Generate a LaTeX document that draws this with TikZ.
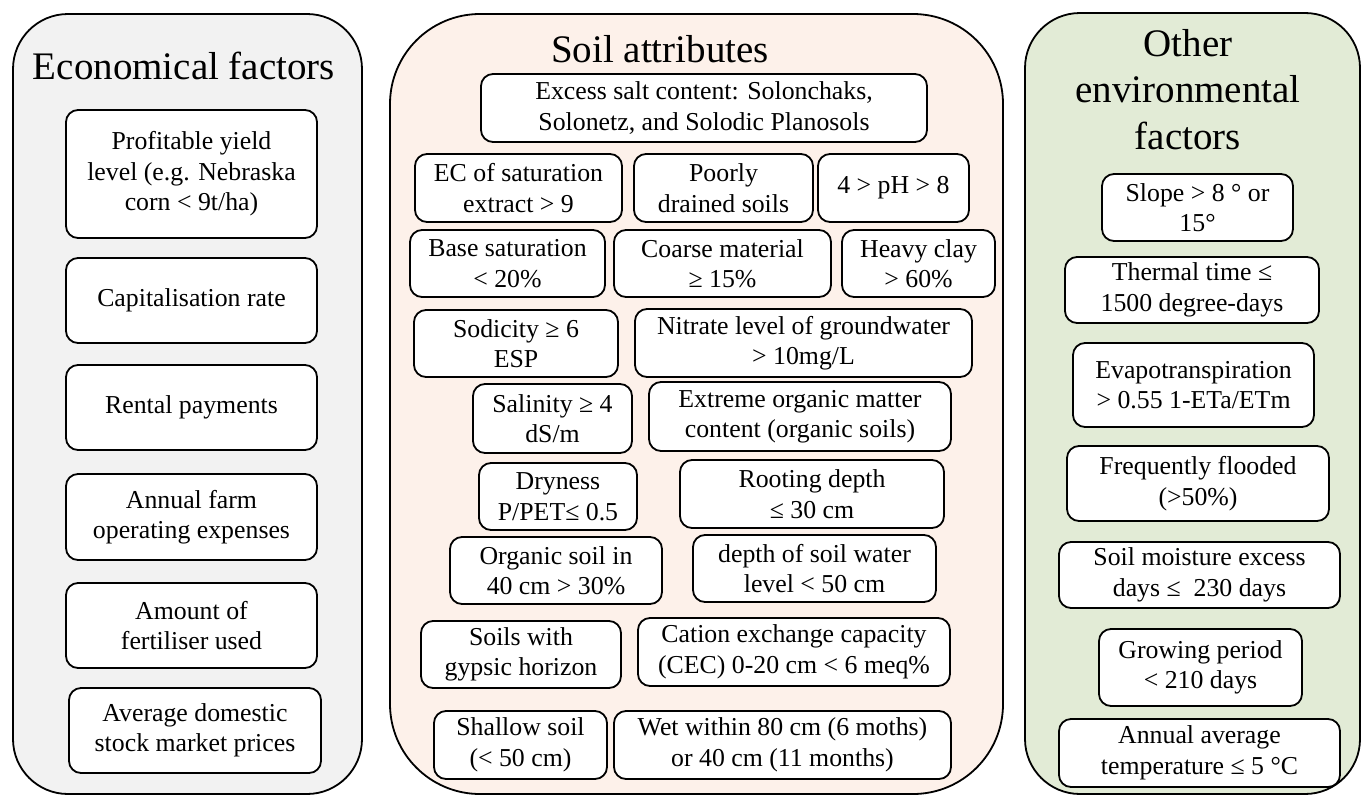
\documentclass[tikz,border=0pt]{standalone}
\usepackage{fontspec}
\setmainfont{Liberation Serif}
\definecolor{econfill}{HTML}{F2F2F2}
\definecolor{soilfill}{HTML}{FDF1EA}
\definecolor{envfill}{HTML}{E2EBD6}
\tikzset{
  panel/.style={draw=black, line width=1.8pt, inner sep=0pt},
  ptitle/.style={font=\fontsize{39}{46.5}\selectfont, align=center, inner sep=0pt},
  fbox/.style={draw=black, line width=1.8pt, fill=white, rounded corners=12pt,
    inner sep=0pt, align=center, font=\fontsize{25.8}{30.5}\selectfont},
}
\begin{document}
\begin{tikzpicture}[x=1pt,y=-1pt]
\useasboundingbox (0,0) rectangle (1362,795);
% panels
\node[panel, fill=econfill, rounded corners=55pt, minimum width=349pt, minimum height=780pt] (econ) at (187.5,404) {};
\node[panel, fill=soilfill, rounded corners=90pt, minimum width=613pt, minimum height=780pt] (soil) at (696.5,404) {};
\node[panel, fill=envfill, rounded corners=55pt, minimum width=335pt, minimum height=781pt] (env) at (1192.5,403.5) {};
% titles
\node[ptitle, anchor=base] (etitle) at (184,79) {Economical factors};
\node[ptitle, anchor=base] (stitle) at (660,62) {Soil attributes};
\node[ptitle] (otitle) at (1188,89.5) {Other\\environmental\\factors};
% economical factors
\node[fbox, minimum width=251pt, minimum height=128pt] (e1) at (191.5,174) {Profitable yield\\level (e.g. Nebraska\\corn < 9t/ha)};
\node[fbox, minimum width=251pt, minimum height=85pt] (e2) at (191.5,300.5) {Capitalisation rate};
\node[fbox, minimum width=251pt, minimum height=85pt] (e3) at (191.5,407.5) {Rental payments};
\node[fbox, minimum width=251pt, minimum height=86pt] (e4) at (191.5,517) {Annual farm\\operating expenses};
\node[fbox, minimum width=251pt, minimum height=85pt] (e5) at (191.5,625.5) {Amount of\\fertiliser used};
\node[fbox, minimum width=252pt, minimum height=85pt] (e6) at (195,730.5) {Average domestic\\stock market prices};
% soil attributes
\node[fbox, minimum width=446pt, minimum height=68pt] (s1) at (704,108) {Excess salt content: Solonchaks,\\Solonetz, and Solodic Planosols};
\node[fbox, minimum width=207pt, minimum height=68pt] (s2) at (518.5,188) {EC of saturation\\extract > 9};
\node[fbox, minimum width=179pt, minimum height=68pt] (s3) at (723.5,188) {Poorly\\drained soils};
\node[fbox, minimum width=151pt, minimum height=68pt] (s4) at (893.5,188) {4 > pH > 8};
\node[fbox, minimum width=195pt, minimum height=67pt] (s5) at (507.5,263.5) {Base saturation\\< 20\%};
\node[fbox, minimum width=217pt, minimum height=67pt] (s6) at (722.5,263.5) {Coarse material\\≥ 15\%};
\node[fbox, minimum width=153pt, minimum height=67pt] (s7) at (918.5,263.5) {Heavy clay\\> 60\%};
\node[fbox, minimum width=204pt, minimum height=67pt] (s8) at (516,343.5) {Sodicity ≥ 6\\ESP};
\node[fbox, minimum width=337pt, minimum height=68pt] (s9) at (803.5,343) {Nitrate level of groundwater\\> 10mg/L};
\node[fbox, minimum width=159pt, minimum height=69pt] (s10) at (552.5,418.5) {Salinity ≥ 4\\dS/m};
\node[fbox, minimum width=302pt, minimum height=69pt] (s11) at (800,416.5) {Extreme organic matter\\content (organic soils)};
\node[fbox, minimum width=158pt, minimum height=67pt] (s12) at (558,496.5) {Dryness\\P/PET≤ 0.5};
\node[fbox, minimum width=264pt, minimum height=68pt] (s13) at (812,494) {Rooting depth\\≤ 30 cm};
\node[fbox, minimum width=212pt, minimum height=67pt] (s14) at (556,570.5) {Organic soil in\\40 cm > 30\%};
\node[fbox, minimum width=243pt, minimum height=67pt] (s15) at (814.5,568.5) {depth of soil water\\level < 50 cm};
\node[fbox, minimum width=200pt, minimum height=67pt] (s16) at (521,654.5) {Soils with\\gypsic horizon};
\node[fbox, minimum width=312pt, minimum height=68pt] (s17) at (794,652) {Cation exchange capacity\\(CEC) 0-20 cm < 6 meq\%};
\node[fbox, minimum width=173pt, minimum height=68pt] (s18) at (520.5,745) {Shallow soil\\(< 50 cm)};
\node[fbox, minimum width=337pt, minimum height=68pt] (s19) at (782.5,745) {Wet within 80 cm (6 moths)\\or 40 cm (11 months)};
% other environmental factors
\node[fbox, minimum width=191pt, minimum height=67pt] (o1) at (1197.5,207.5) {Slope > 8 ° or\\15°};
\node[fbox, minimum width=254pt, minimum height=66pt] (o2) at (1192,290) {Thermal time ≤\\1500 degree-days};
\node[fbox, minimum width=241pt, minimum height=84pt] (o3) at (1193.5,385) {Evapotranspiration\\> 0.55 1-ETa/ETm};
\node[fbox, minimum width=262pt, minimum height=75pt] (o4) at (1198,483.5) {Frequently flooded\\(>50\%)};
\node[fbox, minimum width=281pt, minimum height=66pt] (o5) at (1199.5,575) {Soil moisture excess\\days ≤~ 230 days};
\node[fbox, minimum width=203pt, minimum height=77pt] (o6) at (1200.5,667.5) {Growing period\\< 210 days};
\node[fbox, minimum width=281pt, minimum height=68pt] (o7) at (1199.5,753) {Annual average\\temperature ≤ 5 °C};
\end{tikzpicture}
\end{document}
